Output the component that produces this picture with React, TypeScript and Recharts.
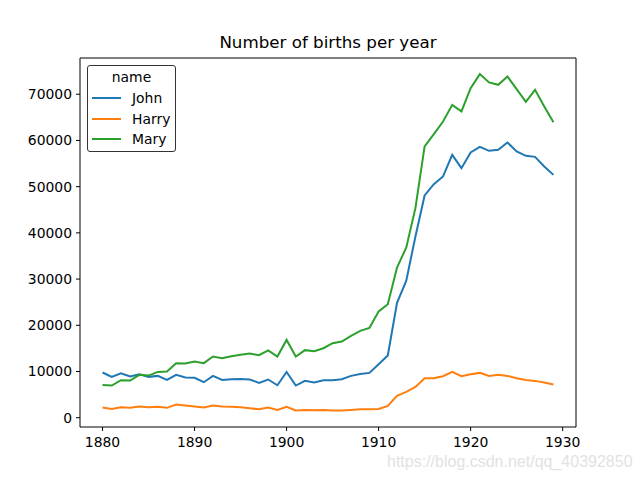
import { LineChart, Line, XAxis, YAxis, ReferenceLine } from 'recharts'

const YEARS = [
  1880, 1881, 1882, 1883, 1884, 1885, 1886, 1887, 1888, 1889,
  1890, 1891, 1892, 1893, 1894, 1895, 1896, 1897, 1898, 1899,
  1900, 1901, 1902, 1903, 1904, 1905, 1906, 1907, 1908, 1909,
  1910, 1911, 1912, 1913, 1914, 1915, 1916, 1917, 1918, 1919,
  1920, 1921, 1922, 1923, 1924, 1925, 1926, 1927, 1928, 1929
]

const JOHN = [
  9780, 8840, 9630, 8910, 9420, 8840, 9050, 8180, 9270, 8700,
  8630, 7680, 9050, 8180, 8320, 8390, 8270, 7540, 8270, 7030,
  9910, 6960, 7970, 7610, 8120, 8120, 8320, 9050, 9480, 9700,
  11580, 13460, 24850, 29600, 39200, 48100, 50540, 52200, 56880, 54000,
  57400, 58620, 57750, 57970, 59560, 57620, 56670, 56450, 54370, 52550
]

const HARRY = [
  2200, 1910, 2280, 2140, 2430, 2280, 2350, 2140, 2860, 2640,
  2430, 2200, 2640, 2430, 2350, 2280, 2060, 1840, 2200, 1690,
  2350, 1550, 1690, 1620, 1690, 1550, 1550, 1690, 1840, 1840,
  1910, 2570, 4720, 5590, 6670, 8550, 8550, 8980, 9910, 8980,
  9420, 9700, 9050, 9270, 9050, 8550, 8180, 7970, 7610, 7180
]

const MARY = [
  7100, 6960, 8120, 8050, 9270, 9120, 9910, 9980, 11800, 11730,
  12160, 11800, 13240, 12880, 13310, 13600, 13890, 13530, 14550, 13240,
  16840, 13240, 14620, 14390, 15040, 16120, 16490, 17710, 18790, 19440,
  22990, 24570, 32500, 36800, 45350, 58700, 61360, 64100, 67700, 66280,
  71320, 74350, 72550, 72040, 73850, 71100, 68360, 70950, 67360, 63960
]

const X_TICKS = [1880, 1890, 1900, 1910, 1920, 1930]
const Y_TICKS = [0, 10000, 20000, 30000, 40000, 50000, 60000, 70000]

const SERIES = [
  { key: 'John', color: '#1f77b4' },
  { key: 'Harry', color: '#ff7f0e' },
  { key: 'Mary', color: '#2ca02c' }
]

const FONT = '"DejaVu Sans", sans-serif'
const X_DOMAIN = [1877.55, 1931.45]
const Y_DOMAIN = [-2010, 77840]
const TICK = { fontSize: 13.9, fill: '#000', fontFamily: FONT }

const data = YEARS.map((year, i) => ({
  year,
  John: JOHN[i],
  Harry: HARRY[i],
  Mary: MARY[i]
}))

// matplotlib-style legend box, laid over the plot
function LegendBox() {
  return (
    <div
      style={{
        position: 'absolute',
        left: 87,
        top: 65,
        width: 89,
        height: 87,
        boxSizing: 'border-box',
        border: '1px solid #333',
        borderRadius: 3,
        background: '#fff',
        fontFamily: FONT,
        fontSize: 13.9,
        color: '#000'
      }}
    >
      <div style={{ position: 'absolute', left: 0, right: 0, top: 2, lineHeight: '18px', textAlign: 'center' }}>
        name
      </div>
      {SERIES.map((s, i) => (
        <div key={s.key} style={{ position: 'absolute', left: 0, top: 23 + i * 20.7, height: 18, width: '100%' }}>
          <div style={{ position: 'absolute', left: 4, top: 8, width: 29, height: 2, background: s.color }} />
          <div style={{ position: 'absolute', left: 44, top: 0, lineHeight: '18px' }}>{s.key}</div>
        </div>
      ))}
    </div>
  )
}

export default function App() {
  return (
    <div style={{ position: 'absolute', left: 0, top: 0, width: 640, height: 480, background: '#fff' }}>
      <div
        style={{
          position: 'absolute',
          left: 80,
          width: 496,
          top: 32,
          textAlign: 'center',
          fontFamily: FONT,
          fontSize: 16.7,
          lineHeight: '20px'
        }}
      >
        Number of births per year
      </div>
      <LineChart width={640} height={480} data={data} margin={{ top: 58, right: 64, bottom: 23, left: 20 }}>
        <XAxis
          dataKey="year"
          type="number"
          domain={X_DOMAIN}
          ticks={X_TICKS}
          tick={TICK}
          tickSize={4}
          tickMargin={6}
          height={30}
          stroke="#000"
          allowDataOverflow
        />
        <YAxis
          type="number"
          domain={Y_DOMAIN}
          ticks={Y_TICKS}
          tick={TICK}
          tickSize={4}
          tickMargin={4}
          width={60}
          stroke="#000"
          allowDataOverflow
        />
        <ReferenceLine y={Y_DOMAIN[1]} stroke="#000" strokeWidth={1} />
        <ReferenceLine x={X_DOMAIN[1]} stroke="#000" strokeWidth={1} />
        {SERIES.map((s) => (
          <Line
            key={s.key}
            type="linear"
            dataKey={s.key}
            stroke={s.color}
            strokeWidth={2}
            dot={false}
            activeDot={false}
            isAnimationActive={false}
          />
        ))}
      </LineChart>
      <LegendBox />
      <div
        style={{
          position: 'absolute',
          left: 387,
          top: 452,
          fontFamily: '"Liberation Sans", Arial, sans-serif',
          fontSize: 16,
          lineHeight: '20px',
          color: '#e2e2e2',
          whiteSpace: 'nowrap'
        }}
      >
        https://blog.csdn.net/qq_40392850
      </div>
    </div>
  )
}
